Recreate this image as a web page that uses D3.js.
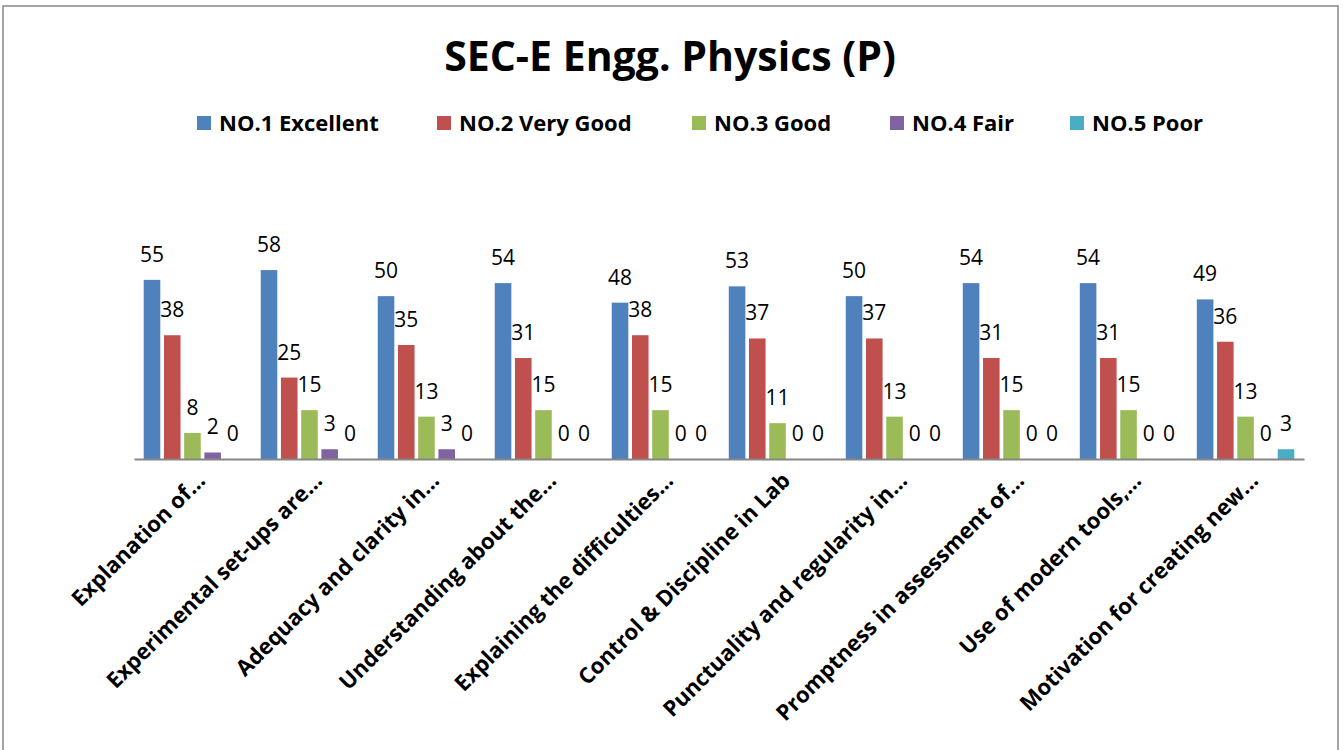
<!DOCTYPE html>
<html><head><meta charset="utf-8">
<script src="https://cdn.jsdelivr.net/npm/d3@7"></script>
<style>body{margin:0;background:#fff;overflow:hidden}svg{display:block}</style>
</head><body><svg id="c" width="1344" height="750"></svg>
<script>
const categories = ["Explanation of…","Experimental set-ups are…","Adequacy and clarity in…","Understanding about the…","Explaining the difficulties…","Control & Discipline in Lab","Punctuality and regularity in…","Promptness in assessment of…","Use of modern tools,…","Motivation for creating new…"];
const seriesNames = ["NO.1 Excellent","NO.2 Very Good","NO.3 Good","NO.4 Fair","NO.5 Poor"];
const excellent = [55,58,50,54,48,53,50,54,54,49];
const veryGood  = [38,25,35,31,38,37,37,31,31,36];
const good      = [8,15,13,15,15,11,13,15,15,13];
const fair      = [2,3,3,0,0,0,0,0,0,0];
const poor      = [0,0,0,0,0,0,0,0,0,3];
const colors = ["#4F81BD","#C0504D","#9BBB59","#8064A2","#4BACC6"];
const seriesVals = [excellent, veryGood, good, fair, poor];

const svg = d3.select("#c");
const font = "'Open Sans', sans-serif";

svg.append("rect").attr("x",3).attr("y",6).attr("width",1335).attr("height",800)
  .attr("fill","#fff").attr("stroke","#878787").attr("stroke-width",1.5);

svg.append("text").attr("x",670).attr("y",71).attr("text-anchor","middle")
  .attr("font-family",font).attr("font-weight","bold").attr("font-size",41)
  .text("SEC-E Engg. Physics (P)");

const legendX = [197,437,692,890,1070];
const lg = svg.append("g");
seriesNames.forEach((s,i)=>{
  lg.append("rect").attr("x",legendX[i]).attr("y",116).attr("width",14).attr("height",14).attr("fill",colors[i]);
  lg.append("text").attr("x",legendX[i]+22).attr("y",131).attr("font-family",font)
    .attr("font-weight","bold").attr("font-size",22).text(s);
});

const x0 = d3.scaleBand().domain(categories).range([134,1304]).paddingInner(0.167).paddingOuter(0.083);
const x1 = d3.scaleBand().domain(seriesNames).range([0,x0.bandwidth()]).paddingInner(0.18).paddingOuter(0);
const y = d3.scaleLinear().domain([0,70]).range([459,231]);

const groups = svg.append("g").selectAll("g").data(categories).join("g")
  .attr("transform",c=>`translate(${x0(c)},0)`);
seriesNames.forEach((s,si)=>{
  groups.append("rect")
    .attr("x",x1(s)).attr("width",x1.bandwidth())
    .attr("y",(c,ci)=>y(seriesVals[si][ci]))
    .attr("height",(c,ci)=>y(0)-y(seriesVals[si][ci]))
    .attr("fill",colors[si]);
  groups.append("text")
    .attr("x",x1(s)+x1.bandwidth()/2)
    .attr("y",(c,ci)=>y(seriesVals[si][ci])-18)
    .attr("text-anchor","middle").attr("font-family",font).attr("font-size",21)
    .text((c,ci)=>seriesVals[si][ci]);
});

const ax = svg.append("g").attr("transform","translate(0,459)")
  .call(d3.axisBottom(x0).tickSize(0).tickFormat(""));
ax.select(".domain").attr("stroke","#868686").attr("stroke-width",2);

svg.append("g").selectAll("text").data(categories).join("text")
  .attr("transform",c=>`translate(${x0(c)+x0.bandwidth()/2+14},482) rotate(-45)`)
  .attr("text-anchor","end").attr("font-family",font).attr("font-weight","bold").attr("font-size",22)
  .text(c=>c);
</script></body></html>
